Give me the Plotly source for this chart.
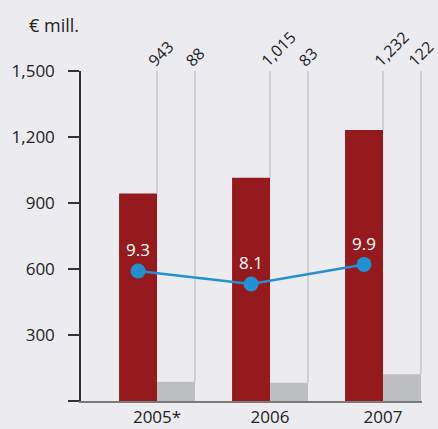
import plotly.graph_objects as go

# Data
years = ["2005*", "2006", "2007"]
revenue = [943, 1015, 1232]          # € mill., dark red bars
other = [88, 83, 122]                # € mill., grey bars
margin_pct = [9.3, 8.1, 9.9]         # line values

y_ticks = [0, 300, 600, 900, 1200, 1500]

RED = "#941a1e"
GREY = "#bdbec1"
BLUE = "#2490d0"
BG = "#ececf0"
FONT = "Open Sans"

bar_w = 0.336
idx = list(range(len(years)))
x_red = [i - bar_w / 2 for i in idx]
x_grey = [i + bar_w / 2 for i in idx]

fig = go.Figure()

# thin leader lines from the top of the axis down to each bar
lx, ly = [], []
for i in idx:
    for xe, v in ((i, revenue[i]), (i + bar_w, other[i])):
        lx += [xe, xe, None]
        ly += [v, 1500, None]
fig.add_trace(go.Scatter(x=lx, y=ly, mode="lines",
                         line=dict(color="#c6c6ca", width=1.5),
                         hoverinfo="skip", showlegend=False))

fig.add_trace(go.Bar(x=x_red, y=revenue, width=bar_w, marker=dict(color=RED, line=dict(width=0)),
                     showlegend=False))
fig.add_trace(go.Bar(x=x_grey, y=other, width=bar_w, marker=dict(color=GREY, line=dict(width=0)),
                     showlegend=False))

fig.add_trace(go.Scatter(x=x_red, y=margin_pct, yaxis="y2", mode="lines+markers+text",
                         line=dict(color=BLUE, width=2.5),
                         marker=dict(color=BLUE, size=15),
                         text=[f"{v:.1f}" for v in margin_pct],
                         textposition="top center",
                         textfont=dict(color="white", size=17, family=FONT),
                         showlegend=False))

# rotated value labels above the leader lines (the rightmost one nudged in from the edge)
for i in idx:
    for xe, v in ((i, revenue[i]), (i + bar_w, other[i])):
        shift = -21 if xe == idx[-1] + bar_w else -17
        fig.add_annotation(x=xe, y=1.0, xref="x", yref="paper",
                           text=f"{v:,}", textangle=-45, showarrow=False,
                           xanchor="left", yanchor="bottom", xshift=shift, yshift=-3,
                           font=dict(size=16, color="#222", family=FONT))

fig.add_annotation(xref="x domain", yref="y domain",
                   x=(54 - 81) / 341, y=(401 - 25) / 330,
                   xanchor="center", yanchor="middle",
                   text="€ mill.", showarrow=False,
                   font=dict(size=18, color="#222", family=FONT))

fig.update_layout(
    width=438, height=429,
    margin=dict(l=81, r=16, t=71, b=28, autoexpand=False),
    paper_bgcolor=BG, plot_bgcolor=BG,
    barmode="overlay",
    font=dict(family=FONT, size=17, color="#222"),
    xaxis=dict(range=[-0.673, 2.345], tickvals=idx, ticktext=years,
               showgrid=False, zeroline=False, showline=True, automargin=False,
               linecolor="#7a7a7a", linewidth=1.5, ticks="", ticklabelstandoff=0),
    yaxis=dict(range=[0, 1500], tickvals=y_ticks, automargin=False,
               ticktext=["" if t == 0 else f"{t:,}" for t in y_ticks],
               showgrid=False, zeroline=False, showline=True,
               linecolor="#333", linewidth=1.5, ticks="outside", ticklen=11,
               tickcolor="#333", tickwidth=1.5, ticklabelstandoff=10),
    yaxis2=dict(range=[-2.63, 27.64], overlaying="y", visible=False),
)

fig.write_html("out.html")
